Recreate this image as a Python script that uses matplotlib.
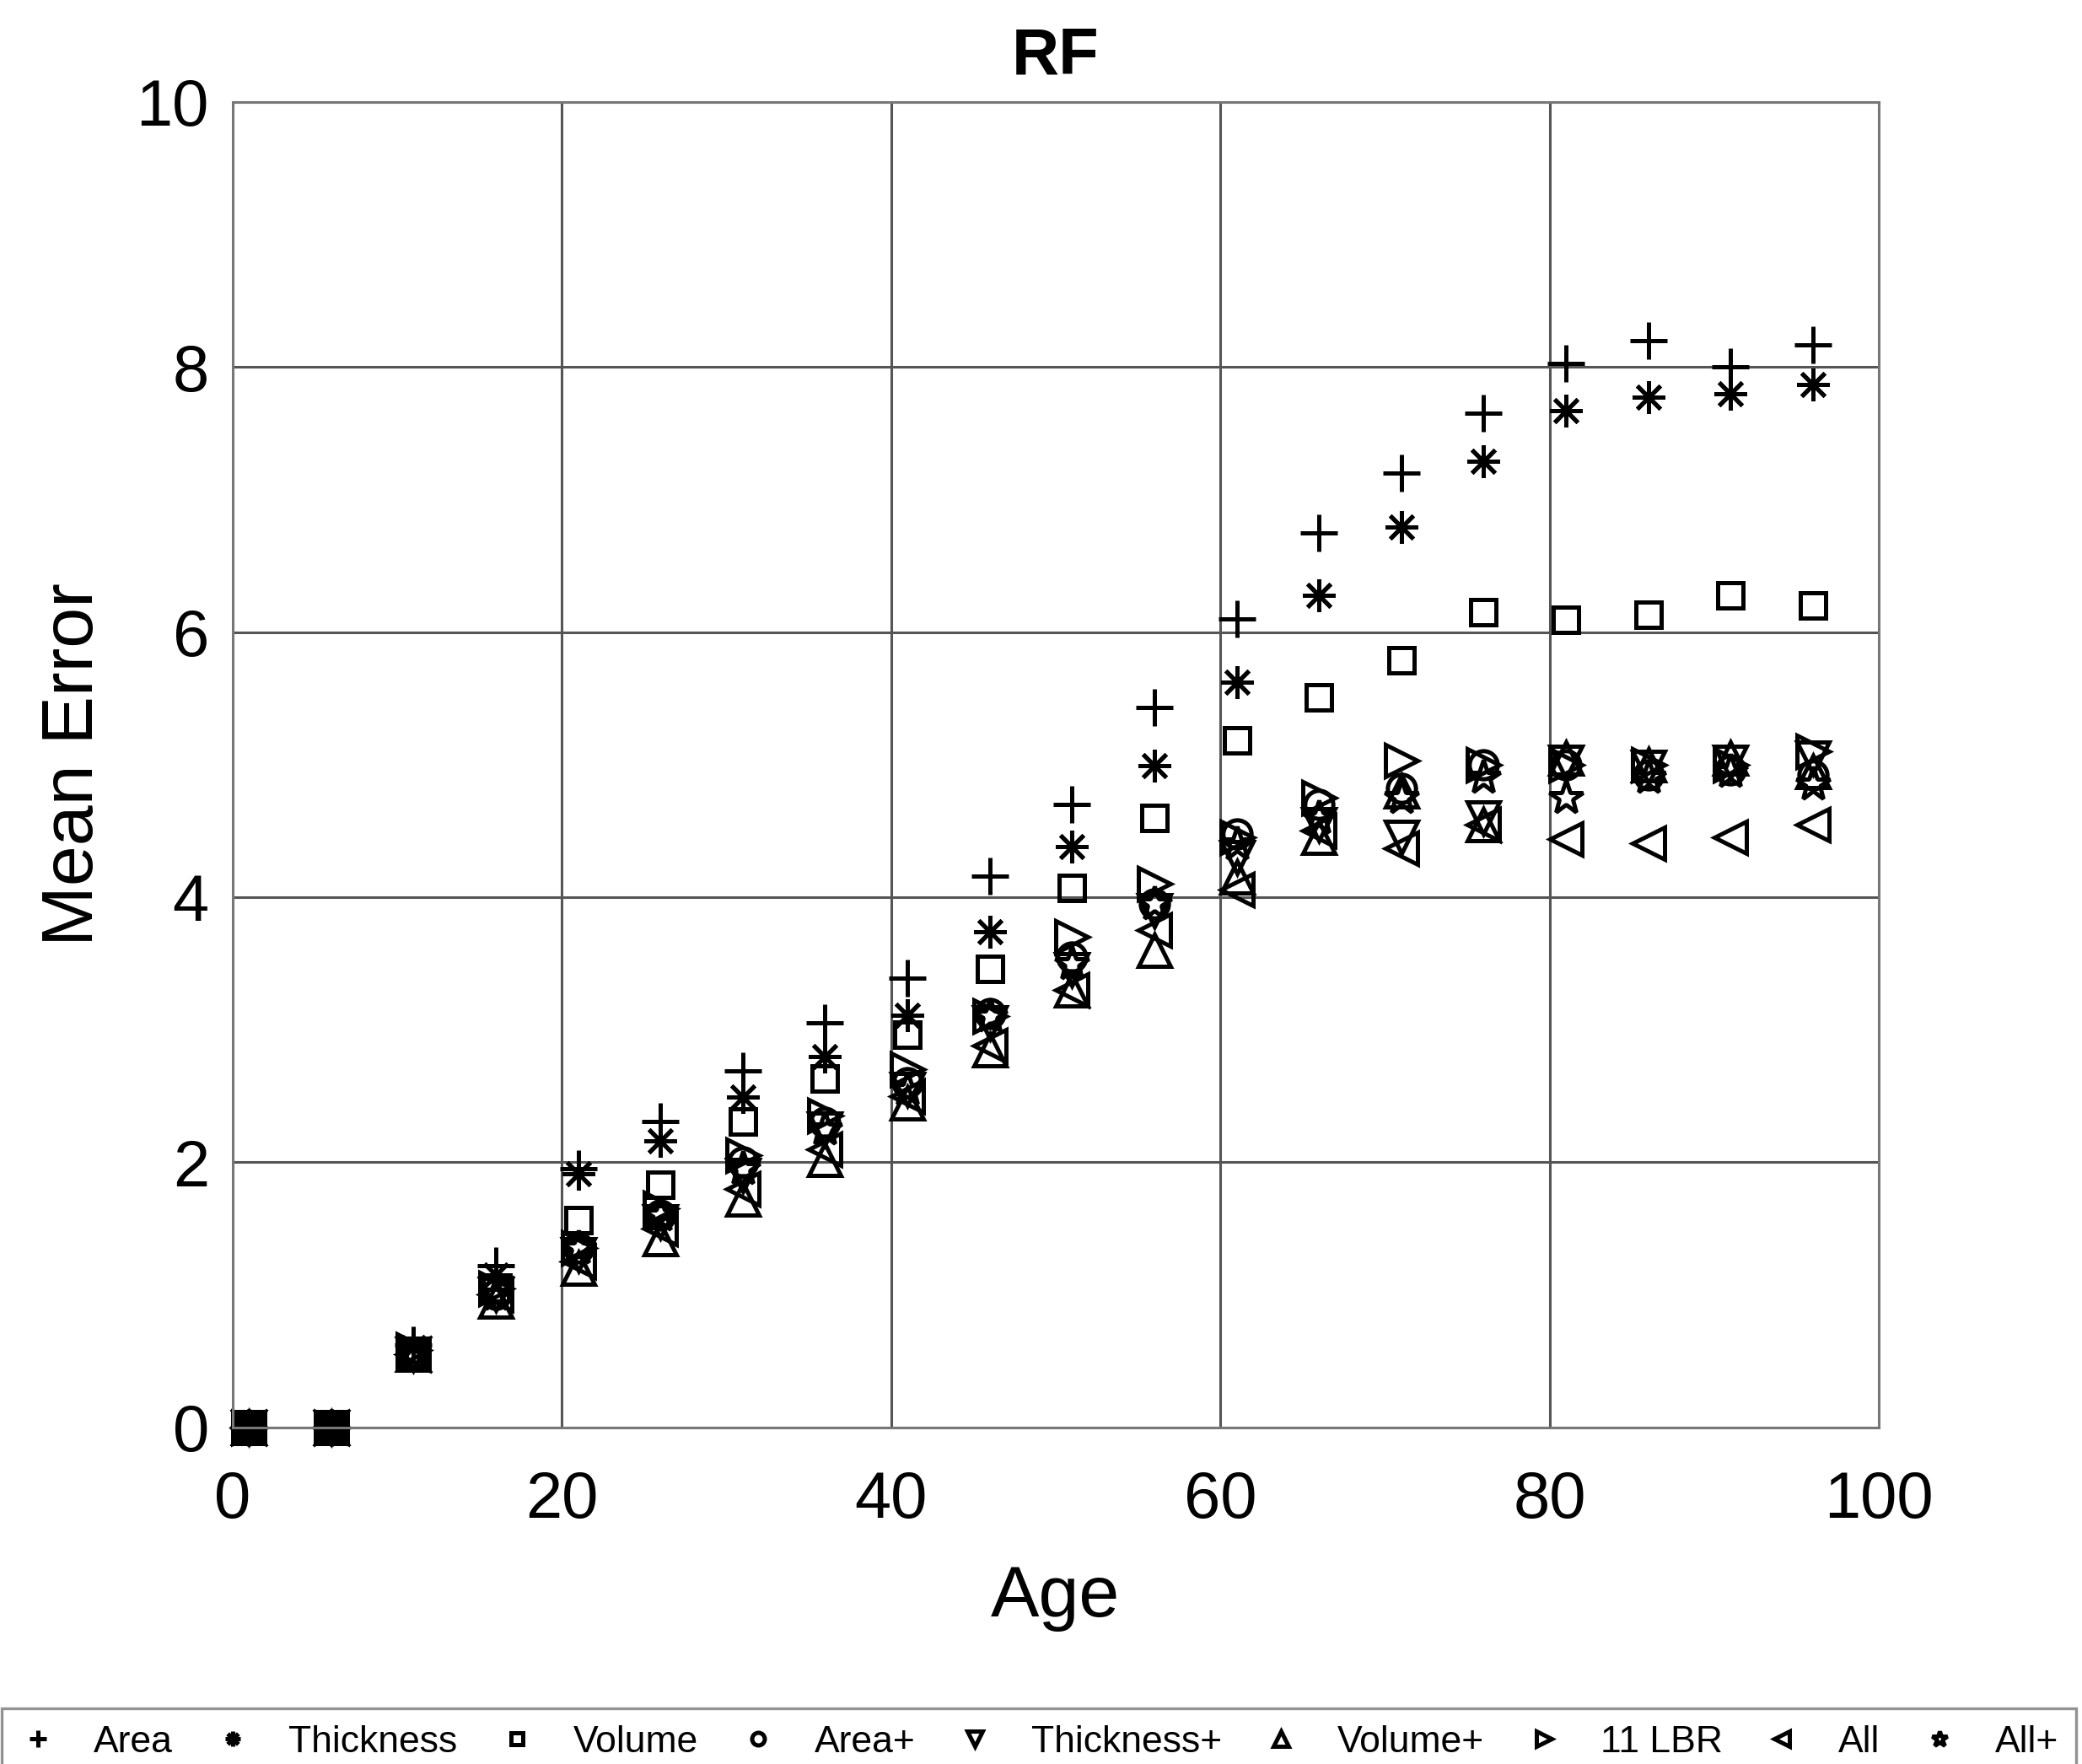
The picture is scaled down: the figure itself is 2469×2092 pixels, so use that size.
import matplotlib
matplotlib.use("Agg")
import matplotlib.pyplot as plt

plt.rcParams['font.family'] = ['Liberation Sans', 'DejaVu Sans']

ages = [1, 6, 11, 16, 21, 26, 31, 36, 41, 46, 51, 56, 61, 66, 71, 76, 81, 86, 91, 96]

area      = [0, 0, 0.62, 1.22, 1.95, 2.31, 2.69, 3.05, 3.39, 4.16, 4.70, 5.43, 6.10, 6.75, 7.20, 7.65, 8.03, 8.20, 8.00, 8.17]
thickness = [0, 0, 0.60, 1.15, 1.91, 2.16, 2.49, 2.80, 3.11, 3.74, 4.38, 4.99, 5.62, 6.28, 6.79, 7.29, 7.67, 7.77, 7.80, 7.87]
volume    = [0, 0, 0.55, 1.05, 1.56, 1.83, 2.31, 2.63, 2.96, 3.46, 4.07, 4.60, 5.18, 5.51, 5.79, 6.15, 6.09, 6.13, 6.28, 6.20]
area_p    = [0, 0, 0.55, 1.00, 1.35, 1.60, 2.00, 2.30, 2.60, 3.12, 3.55, 3.95, 4.48, 4.70, 4.82, 5.00, 5.00, 4.92, 4.96, 4.92]
thick_p   = [0, 0, 0.55, 1.00, 1.30, 1.55, 1.90, 2.25, 2.55, 3.05, 3.45, 3.90, 4.30, 4.55, 4.45, 4.60, 5.02, 4.98, 5.02, 5.05]
volume_p  = [0, 0, 0.55, 0.95, 1.20, 1.42, 1.72, 2.02, 2.45, 2.85, 3.30, 3.60, 4.15, 4.45, 4.80, 4.55, 5.05, 5.00, 5.05, 4.95]
lbr11     = [0, 0, 0.58, 1.05, 1.35, 1.65, 2.05, 2.35, 2.70, 3.10, 3.70, 4.10, 4.45, 4.75, 5.03, 5.00, 5.00, 5.00, 5.00, 5.10]
all_      = [0, 0, 0.55, 1.00, 1.25, 1.50, 1.80, 2.10, 2.50, 2.88, 3.30, 3.75, 4.06, 4.50, 4.37, 4.55, 4.44, 4.41, 4.45, 4.55]
all_p     = [0, 0, 0.55, 1.00, 1.35, 1.60, 1.95, 2.25, 2.55, 3.10, 3.50, 3.95, 4.40, 4.60, 4.75, 4.90, 4.75, 4.90, 4.95, 4.85]

series = [
    ("Area", area, "+", 16),
    ("Thickness", thickness, (8, 2, 0), 14),
    ("Volume", volume, "s", 11),
    ("Area+", area_p, "o", 12),
    ("Thickness+", thick_p, "v", 14),
    ("Volume+", volume_p, "^", 14),
    ("11 LBR", lbr11, ">", 14),
    ("All", all_, "<", 14),
    ("All+", all_p, "*", 15),
]

fig = plt.figure(figsize=(12.345, 10.46), dpi=200)
ax = fig.add_axes([0.1116, 0.1909, 0.7908, 0.7513])

for name, vals, mk, ms in series:
    ax.plot(ages, vals, linestyle="none", marker=mk, markersize=ms,
            markerfacecolor="none", markeredgecolor="black",
            markeredgewidth=1.8, label=name, clip_on=False)

ax.set_xlim(0, 100)
ax.set_ylim(0, 10)
ax.set_xticks(range(0, 101, 20))
ax.set_yticks(range(0, 11, 2))
ax.grid(True, color="#555555", linewidth=1.1)
ax.set_axisbelow(True)
for s in ax.spines.values():
    s.set_color("#777777")
    s.set_linewidth(1.1)
ax.tick_params(length=0, labelsize=28)
ax.tick_params(axis="x", pad=18)
ax.tick_params(axis="y", pad=10)

ax.set_xlabel("Age", fontsize=31, labelpad=14)
ax.set_ylabel("Mean Error", fontsize=31, labelpad=12)
ax.set_title("RF", fontsize=28, fontweight="bold", pad=12)

leg = fig.legend(loc="upper left", bbox_to_anchor=(0.001, 0.0316, 0.996, 0),
                 bbox_transform=fig.transFigure, mode="expand", ncol=9,
                 fontsize=16, markerscale=0.45, handlelength=1.0,
                 handletextpad=1.0, frameon=True, fancybox=False,
                 borderpad=0.45, borderaxespad=0)
leg.get_frame().set_edgecolor("#777777")
leg.get_frame().set_linewidth(1.2)

fig.savefig("out.png", dpi=200)
